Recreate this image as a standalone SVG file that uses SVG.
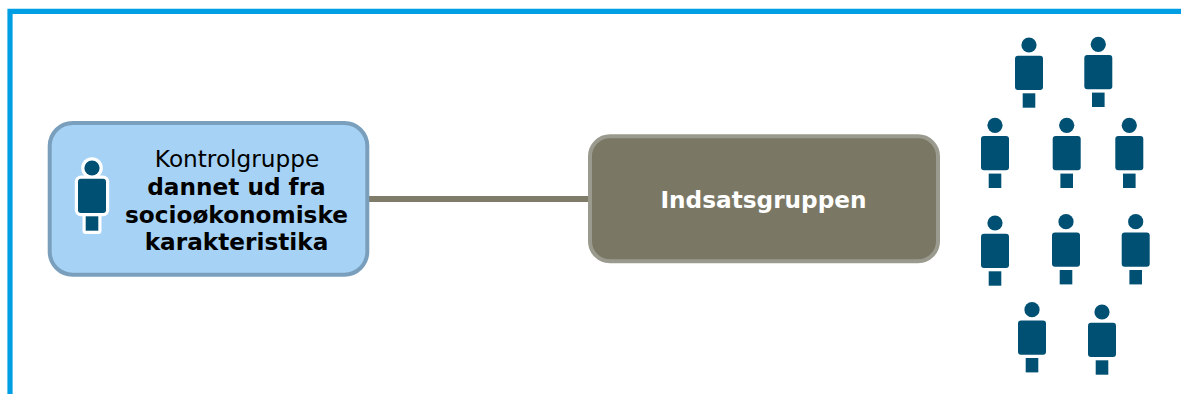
<svg xmlns="http://www.w3.org/2000/svg" xmlns:xlink="http://www.w3.org/1999/xlink" width="1181" height="394" viewBox="0 0 1181 394">
<style>
.t{font-family:"DejaVu Sans",Verdana,sans-serif;font-size:23.2px;text-anchor:middle}
.b{font-weight:700}
.box1{fill:#a6d3f5;stroke:#7a9fbd;stroke-width:4}
.box2{fill:#7a7865;stroke:#9a9a8e;stroke-width:4}
.p{fill:#005073}
.halo{stroke:#fff;stroke-width:6.4;stroke-linejoin:round}
</style>
<defs>
<g id="person">
<circle cx="0" cy="0" r="7.6"/>
<rect x="-14" y="10.7" width="28" height="34.3" rx="3"/>
<rect x="-6.3" y="48.3" width="12.6" height="14.4"/>
</g>
</defs>
<rect width="1181" height="394" fill="#fff"/>
<path id="frame" d="M10 394V11.3H1181" fill="none" stroke="#009fe3" stroke-width="5.2"/>
<g id="connectors">
<line x1="369" y1="199" x2="589" y2="199" stroke="#7f7c69" stroke-width="6"/>
</g>
<g id="kontrolgruppe">
<rect class="box1" x="49.7" y="123" width="317.6" height="151.7" rx="23"/>
<use href="#person" x="92" y="168" class="p halo"/>
<use href="#person" x="92" y="168" class="p"/>
<text class="t" x="237" y="167">Kontrolgruppe</text>
<text class="t b" x="236.5" y="194.5">dannet ud fra</text>
<text class="t b" x="236.5" y="222.5">socioøkonomiske</text>
<text class="t b" x="236.5" y="250">karakteristika</text>
</g>
<g id="indsatsgruppen">
<rect class="box2" x="590" y="136.3" width="348" height="125" rx="20"/>
<text class="t b" x="763.5" y="208" fill="#fff">Indsatsgruppen</text>
</g>
<g id="person-1" class="p"><use href="#person" x="1029" y="45"/></g>
<g id="person-2" class="p"><use href="#person" x="1098.3" y="44.3"/></g>
<g id="person-3" class="p"><use href="#person" x="995" y="125.3"/></g>
<g id="person-4" class="p"><use href="#person" x="1066.7" y="125.3"/></g>
<g id="person-5" class="p"><use href="#person" x="1129.3" y="125.3"/></g>
<g id="person-6" class="p"><use href="#person" x="995" y="223"/></g>
<g id="person-7" class="p"><use href="#person" x="1066" y="221.7"/></g>
<g id="person-8" class="p"><use href="#person" x="1135.7" y="221.7"/></g>
<g id="person-9" class="p"><use href="#person" x="1032" y="309.7"/></g>
<g id="person-10" class="p"><use href="#person" x="1102" y="312"/></g>
</svg>
